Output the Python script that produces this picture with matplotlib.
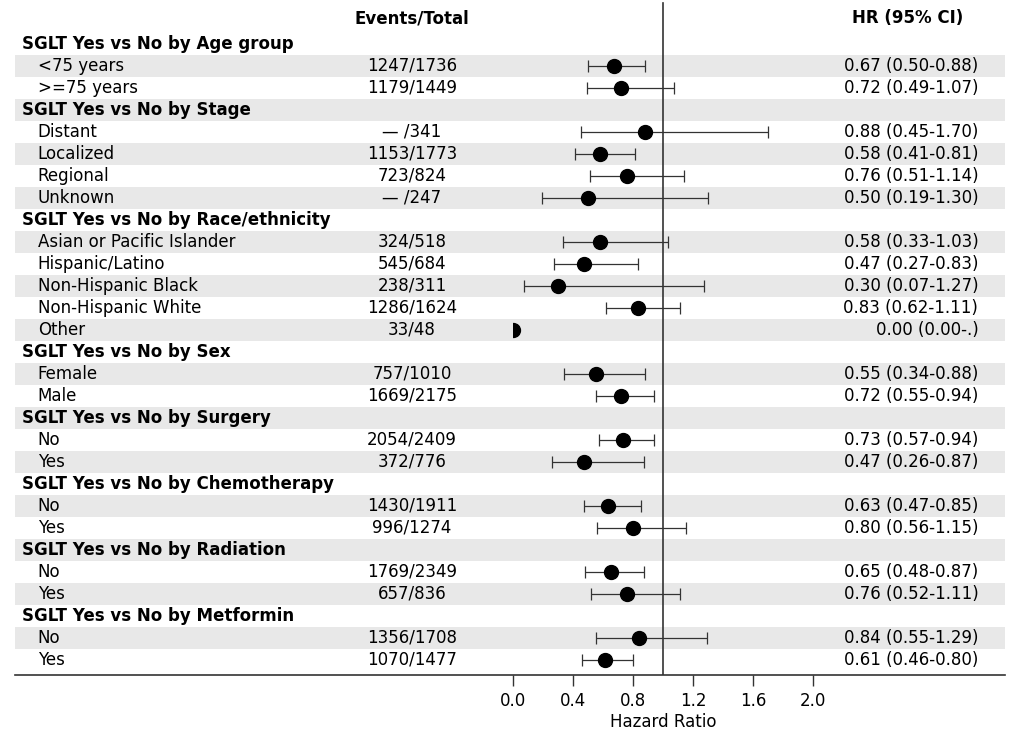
import matplotlib
matplotlib.use("Agg")
from matplotlib import pyplot as plt
from matplotlib import transforms
from matplotlib.patches import Rectangle

# Rows of the forest plot (headers have no estimate)
labels = [
    "SGLT Yes vs No by Age group", "<75 years", ">=75 years",
    "SGLT Yes vs No by Stage", "Distant", "Localized", "Regional", "Unknown",
    "SGLT Yes vs No by Race/ethnicity", "Asian or Pacific Islander", "Hispanic/Latino",
    "Non-Hispanic Black", "Non-Hispanic White", "Other",
    "SGLT Yes vs No by Sex", "Female", "Male",
    "SGLT Yes vs No by Surgery", "No", "Yes",
    "SGLT Yes vs No by Chemotherapy", "No", "Yes",
    "SGLT Yes vs No by Radiation", "No", "Yes",
    "SGLT Yes vs No by Metformin", "No", "Yes",
]
is_header = [lab.startswith("SGLT") for lab in labels]

events = [
    "", "1247/1736", "1179/1449",
    "", "\u2014 /341", "1153/1773", "723/824", "\u2014 /247",
    "", "324/518", "545/684", "238/311", "1286/1624", "33/48",
    "", "757/1010", "1669/2175",
    "", "2054/2409", "372/776",
    "", "1430/1911", "996/1274",
    "", "1769/2349", "657/836",
    "", "1356/1708", "1070/1477",
]

hr = [None, 0.67, 0.72, None, 0.88, 0.58, 0.76, 0.50, None, 0.58, 0.47, 0.30, 0.83, 0.00,
      None, 0.55, 0.72, None, 0.73, 0.47, None, 0.63, 0.80, None, 0.65, 0.76, None, 0.84, 0.61]
lo = [None, 0.50, 0.49, None, 0.45, 0.41, 0.51, 0.19, None, 0.33, 0.27, 0.07, 0.62, None,
      None, 0.34, 0.55, None, 0.57, 0.26, None, 0.47, 0.56, None, 0.48, 0.52, None, 0.55, 0.46]
hi = [None, 0.88, 1.07, None, 1.70, 0.81, 1.14, 1.30, None, 1.03, 0.83, 1.27, 1.11, None,
      None, 0.88, 0.94, None, 0.94, 0.87, None, 0.85, 1.15, None, 0.87, 1.11, None, 1.29, 0.80]
hr_text = [
    "", "0.67 (0.50-0.88)", "0.72 (0.49-1.07)",
    "", "0.88 (0.45-1.70)", "0.58 (0.41-0.81)", "0.76 (0.51-1.14)", "0.50 (0.19-1.30)",
    "", "0.58 (0.33-1.03)", "0.47 (0.27-0.83)", "0.30 (0.07-1.27)", "0.83 (0.62-1.11)", "0.00 (0.00-.)",
    "", "0.55 (0.34-0.88)", "0.72 (0.55-0.94)",
    "", "0.73 (0.57-0.94)", "0.47 (0.26-0.87)",
    "", "0.63 (0.47-0.85)", "0.80 (0.56-1.15)",
    "", "0.65 (0.48-0.87)", "0.76 (0.52-1.11)",
    "", "0.84 (0.55-1.29)", "0.61 (0.46-0.80)",
]
ticks = [0.0, 0.4, 0.8, 1.2, 1.6, 2.0]

plt.rcParams['font.family'] = ['DejaVu Sans']
fs = 12

fig = plt.figure(figsize=(10.16, 7.35), dpi=100)
ax = fig.add_axes([15 / 1016, 60 / 735, 990 / 1016, 675 / 735])
n = len(labels)
ax.set_xlim(-3.32, 3.28)
ax.set_ylim((675 - 44) / 22, -2)

trans = transforms.blended_transform_factory(ax.transAxes, ax.transData)

# zebra bands
for i in range(n):
    if i % 2 == 1:
        ax.add_patch(Rectangle((0, i - 0.5), 1, 1, transform=trans,
                               facecolor="#e8e8e8", edgecolor="none", zorder=0))

# reference line at HR = 1
ax.axvline(1.0, ymin=0, ymax=0.995, color="#333333", lw=1.2, zorder=1)

# estimates, clipped at HR = 0
clip = Rectangle((0, -2), 10, 40, transform=ax.transData)
for i in range(n):
    if hr[i] is None:
        continue
    if lo[i] is not None:
        ax.errorbar(hr[i], i, xerr=[[hr[i] - lo[i]], [hi[i] - hr[i]]], fmt="none",
                    ecolor="#333333", elinewidth=0.9, capsize=4.3, capthick=0.9, zorder=2)
    pt, = ax.plot(hr[i], i, "o", color="black", markersize=10, zorder=3)
    pt.set_clip_path(clip)

# text columns
for i in range(n):
    if is_header[i]:
        ax.text(0.007, i, labels[i], transform=trans, fontsize=fs, fontweight="bold",
                va="center", ha="left")
    else:
        ax.text(0.023, i, labels[i], transform=trans, fontsize=fs, va="center", ha="left")
        ax.text(0.401, i, events[i], transform=trans, fontsize=fs, va="center", ha="center")
        ax.text(0.973, i, hr_text[i], transform=trans, fontsize=fs, va="center", ha="right")

ax.text(0.401, -1.18, "Events/Total", transform=trans, fontsize=fs, fontweight="bold",
        va="center", ha="center")
ax.text(0.902, -1.18, "HR (95% CI)", transform=trans, fontsize=fs, fontweight="bold",
        va="center", ha="center")

ax.set_yticks([])
ax.set_xticks(ticks)
ax.set_xticklabels([f"{t:.1f}" for t in ticks], fontsize=fs)
ax.tick_params(axis="x", length=8, width=1, pad=4, color="#333333")
ax.set_xlabel("Hazard Ratio", fontsize=fs)
ax.xaxis.set_label_coords((663 - 15) / 990, -(722 - 675) / 675)
ax.xaxis.label.set_va("center")
for side in ["top", "right", "left"]:
    ax.spines[side].set_visible(False)
ax.spines["bottom"].set_linewidth(1.2)
ax.spines["bottom"].set_color("#333333")

fig.savefig("out.png", dpi=100)
